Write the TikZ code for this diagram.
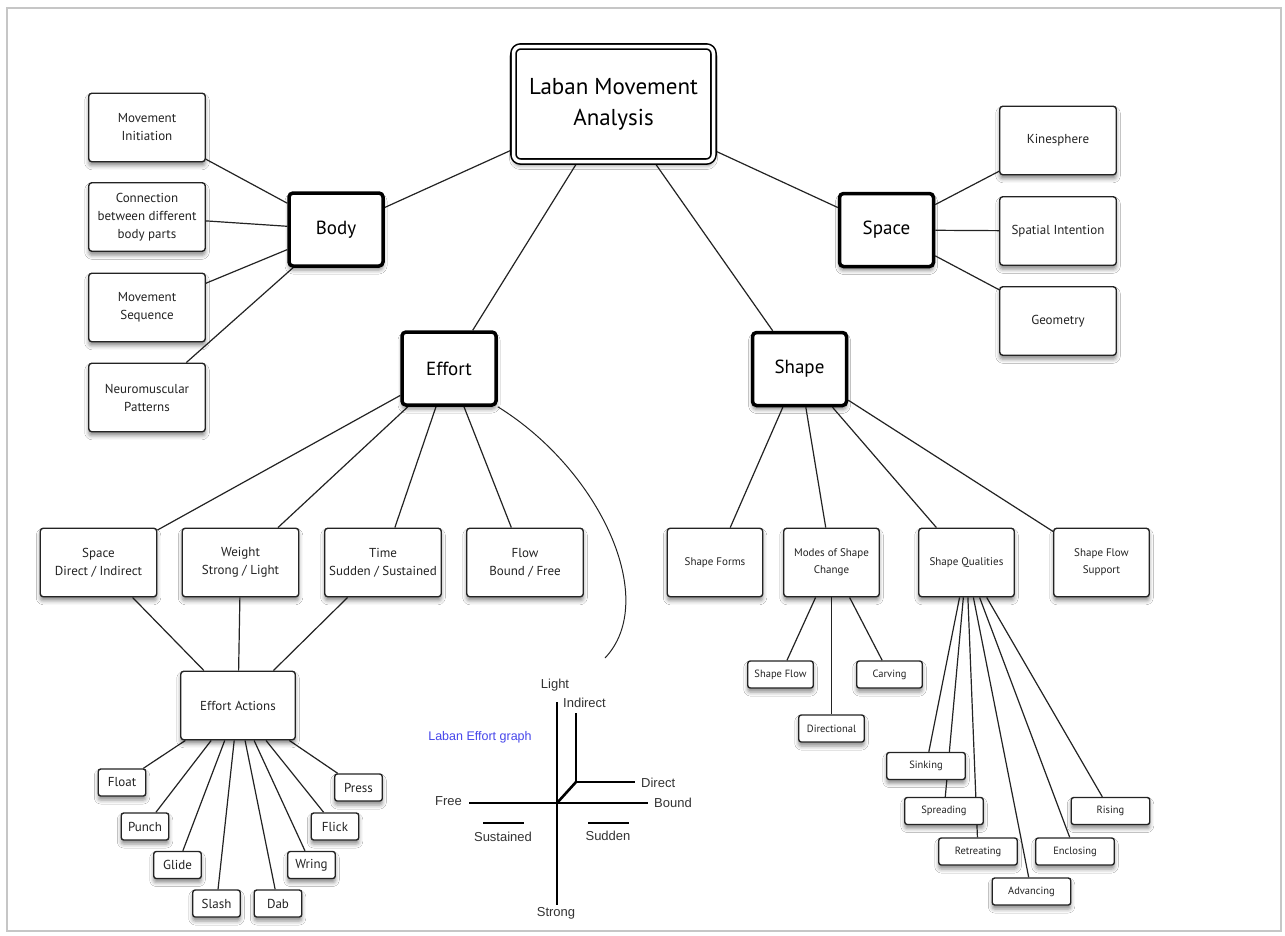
\documentclass[tikz,border=0pt]{standalone}
\usepackage{fontspec}
\setmainfont{PT Sans}
\newfontfamily\graphfont{Liberation Sans}
\usetikzlibrary{backgrounds,shadows.blur}
\definecolor{graphblue}{RGB}{70,70,235}
\definecolor{inkgray}{RGB}{35,35,35}

\tikzset{
  boxshadow/.style={blur shadow={shadow xshift=0pt, shadow yshift=-4pt, shadow blur radius=4pt, shadow opacity=45}},
  lmabox/.style={draw, double, double distance=3.5pt, line width=1.6pt, rounded corners=7pt, fill=white,
    minimum width=200pt, minimum height=115pt, align=center, font=\fontsize{23}{31}\selectfont, boxshadow},
  mainbox/.style={draw, line width=3.5pt, rounded corners=4pt, fill=white,
    minimum width=94pt, minimum height=73pt, font=\fontsize{19}{23}\selectfont, boxshadow},
  subbox/.style={draw=inkgray, line width=1.4pt, rounded corners=3pt, fill=white, text=inkgray,
    minimum width=116.5pt, minimum height=68.5pt, align=center, font=\fontsize{13}{18}\selectfont, boxshadow},
  leafbox/.style={draw=inkgray, line width=1.4pt, rounded corners=2.5pt, fill=white, text=inkgray,
    minimum width=47.5pt, minimum height=27pt, font=\fontsize{13}{15}\selectfont, boxshadow},
  link/.style={draw=inkgray, line width=1.2pt},
  axis/.style={line width=2.6pt},
  glabel/.style={font=\graphfont\fontsize{13}{15}\selectfont, text=black!80, inner sep=1pt},
}

\begin{document}
\begin{tikzpicture}[x=1pt, y=-1pt]
  \useasboundingbox (0,0) rectangle (1285,935);

  \node[lmabox] (lma) at (613.5,104) {Laban Movement\\Analysis};
  \node[mainbox] (body) at (336,229.5) {Body};
  \node[mainbox] (space) at (886.5,230) {Space};
  \node[mainbox] (effort) at (449,368.5) {Effort};
  \node[mainbox] (shape) at (799.5,369) {Shape};

  % body
  \node[subbox] (initiation) at (147,127.5) {Movement\\Initiation};
  \node[subbox] (connection) at (147,217) {Connection\\between different\\body parts};
  \node[subbox] (sequence) at (147,307.5) {Movement\\Sequence};
  \node[subbox] (neuro) at (147,397.5) {Neuromuscular\\Patterns};

  % space
  \node[subbox] (kinesphere) at (1058,140.5) {Kinesphere};
  \node[subbox] (intention) at (1058,231) {Spatial Intention};
  \node[subbox] (geometry) at (1058,321) {Geometry};

  % effort
  \node[subbox] (spacefx) at (98.5,562.5) {Space\\Direct / Indirect};
  \node[subbox] (weight) at (240.5,562.5) {Weight\\Strong / Light};
  \node[subbox] (time) at (383,562.5) {Time\\Sudden / Sustained};
  \node[subbox] (flow) at (525,562.5) {Flow\\Bound / Free};
  \node[subbox, minimum width=114.5pt] (actions) at (238,705.5) {Effort Actions};

  \node[leafbox] (float) at (122,782.5) {Float};
  \node[leafbox] (punch) at (145,826.5) {Punch};
  \node[leafbox] (glide) at (177.5,865) {Glide};
  \node[leafbox] (slash) at (216.5,903.5) {Slash};
  \node[leafbox] (dab) at (278,903.5) {Dab};
  \node[leafbox] (wring) at (311.5,865) {Wring};
  \node[leafbox] (flick) at (335,826.5) {Flick};
  \node[leafbox] (press) at (358.5,787.5) {Press};

  % shape
  \node[subbox, minimum width=95.5pt, font=\fontsize{11}{17}\selectfont] (forms) at (715,562.5) {Shape Forms};
  \node[subbox, minimum width=95.5pt, font=\fontsize{11}{17}\selectfont] (modes) at (831.5,562.5) {Modes of Shape\\Change};
  \node[subbox, minimum width=95.5pt, font=\fontsize{11}{17}\selectfont] (qualities) at (966.5,562.5) {Shape Qualities};
  \node[subbox, minimum width=95.5pt, font=\fontsize{11}{17}\selectfont] (flowsupport) at (1101.5,562.5) {Shape Flow\\Support};

  \node[leafbox, minimum width=65.5pt, font=\fontsize{10.5}{13}\selectfont] (shapeflow) at (780.5,674.5) {Shape Flow};
  \node[leafbox, minimum width=65.5pt, font=\fontsize{10.5}{13}\selectfont] (carving) at (889.5,674.5) {Carving};
  \node[leafbox, minimum width=65.5pt, font=\fontsize{10.5}{13}\selectfont] (directional) at (831.5,728.5) {Directional};

  \node[leafbox, minimum width=78.5pt, font=\fontsize{10.5}{13}\selectfont] (sinking) at (926,766) {Sinking};
  \node[leafbox, minimum width=78.5pt, font=\fontsize{10.5}{13}\selectfont] (spreading) at (944,811) {Spreading};
  \node[leafbox, minimum width=78.5pt, font=\fontsize{10.5}{13}\selectfont] (retreating) at (978,851.5) {Retreating};
  \node[leafbox, minimum width=78.5pt, font=\fontsize{10.5}{13}\selectfont] (advancing) at (1031.5,891.5) {Advancing};
  \node[leafbox, minimum width=78.5pt, font=\fontsize{10.5}{13}\selectfont] (enclosing) at (1075,851.5) {Enclosing};
  \node[leafbox, minimum width=78.5pt, font=\fontsize{10.5}{13}\selectfont] (rising) at (1110.5,811) {Rising};

  \begin{scope}[on background layer]
    \fill[white] (0,0) rectangle (1285,935);
    \draw[gray!45, line width=2pt] (7,8) rectangle (1281,931);
    \draw[link] (lma) -- (body);
    \draw[link] (lma) -- (space);
    \draw[link] (lma) -- (effort);
    \draw[link] (lma) -- (shape);
    \draw[link] (body) -- (initiation);
    \draw[link] (body) -- (connection);
    \draw[link] (body) -- (sequence);
    \draw[link] (body) -- (neuro);
    \draw[link] (space) -- (kinesphere);
    \draw[link] (space) -- (intention);
    \draw[link] (space) -- (geometry);
    \draw[link] (effort) -- (spacefx);
    \draw[link] (effort) -- (weight);
    \draw[link] (effort) -- (time);
    \draw[link] (effort) -- (flow);
    \draw[link] (spacefx) -- (actions);
    \draw[link] (weight) -- (actions);
    \draw[link] (time) -- (actions);
    \draw[link] (actions) -- (float);
    \draw[link] (actions) -- (punch);
    \draw[link] (actions) -- (glide);
    \draw[link] (actions) -- (slash);
    \draw[link] (actions) -- (dab);
    \draw[link] (actions) -- (wring);
    \draw[link] (actions) -- (flick);
    \draw[link] (actions) -- (press);
    \draw[link] (shape) -- (forms);
    \draw[link] (shape) -- (modes);
    \draw[link] (shape) -- (qualities);
    \draw[link] (shape) -- (flowsupport);
    \draw[link] (modes) -- (shapeflow);
    \draw[link] (modes) -- (carving);
    \draw[link] (modes) -- (directional);
    \draw[link] (qualities) -- (sinking);
    \draw[link] (qualities) -- (spreading);
    \draw[link] (qualities) -- (retreating);
    \draw[link] (qualities) -- (advancing);
    \draw[link] (qualities) -- (enclosing);
    \draw[link] (qualities) -- (rising);
  \end{scope}

  % effort graph
  \coordinate (graphtop) at (605,658);
  \draw[link, line width=1pt] (effort.south east) .. controls (600,470) and (660,600) .. (graphtop);
  \draw[axis] (557,702) -- (557,905);
  \draw[axis] (469,803) -- (648,803);
  \draw[axis] (576,713) -- (576,782) -- (635,782);
  \draw[axis] (557,803) -- (576,782);
  \draw[axis] (483,823) -- (524,823);
  \draw[axis] (588,823) -- (629,823);
  \node[glabel] (light) at (555,685) {Light};
  \node[glabel, anchor=west] (indirect) at (562,703) {Indirect};
  \node[glabel, anchor=west] (direct) at (640,783) {Direct};
  \node[glabel, anchor=west] (bound) at (653,803) {Bound};
  \node[glabel, anchor=east] (free) at (463,801) {Free};
  \node[glabel] (sustained) at (503,837) {Sustained};
  \node[glabel] (sudden) at (608,836) {Sudden};
  \node[glabel] (strong) at (556,913) {Strong};
  \node[glabel, text=graphblue, font=\graphfont\fontsize{12.5}{15}\selectfont] (graphname) at (480,737) {Laban Effort graph};
\end{tikzpicture}
\end{document}
